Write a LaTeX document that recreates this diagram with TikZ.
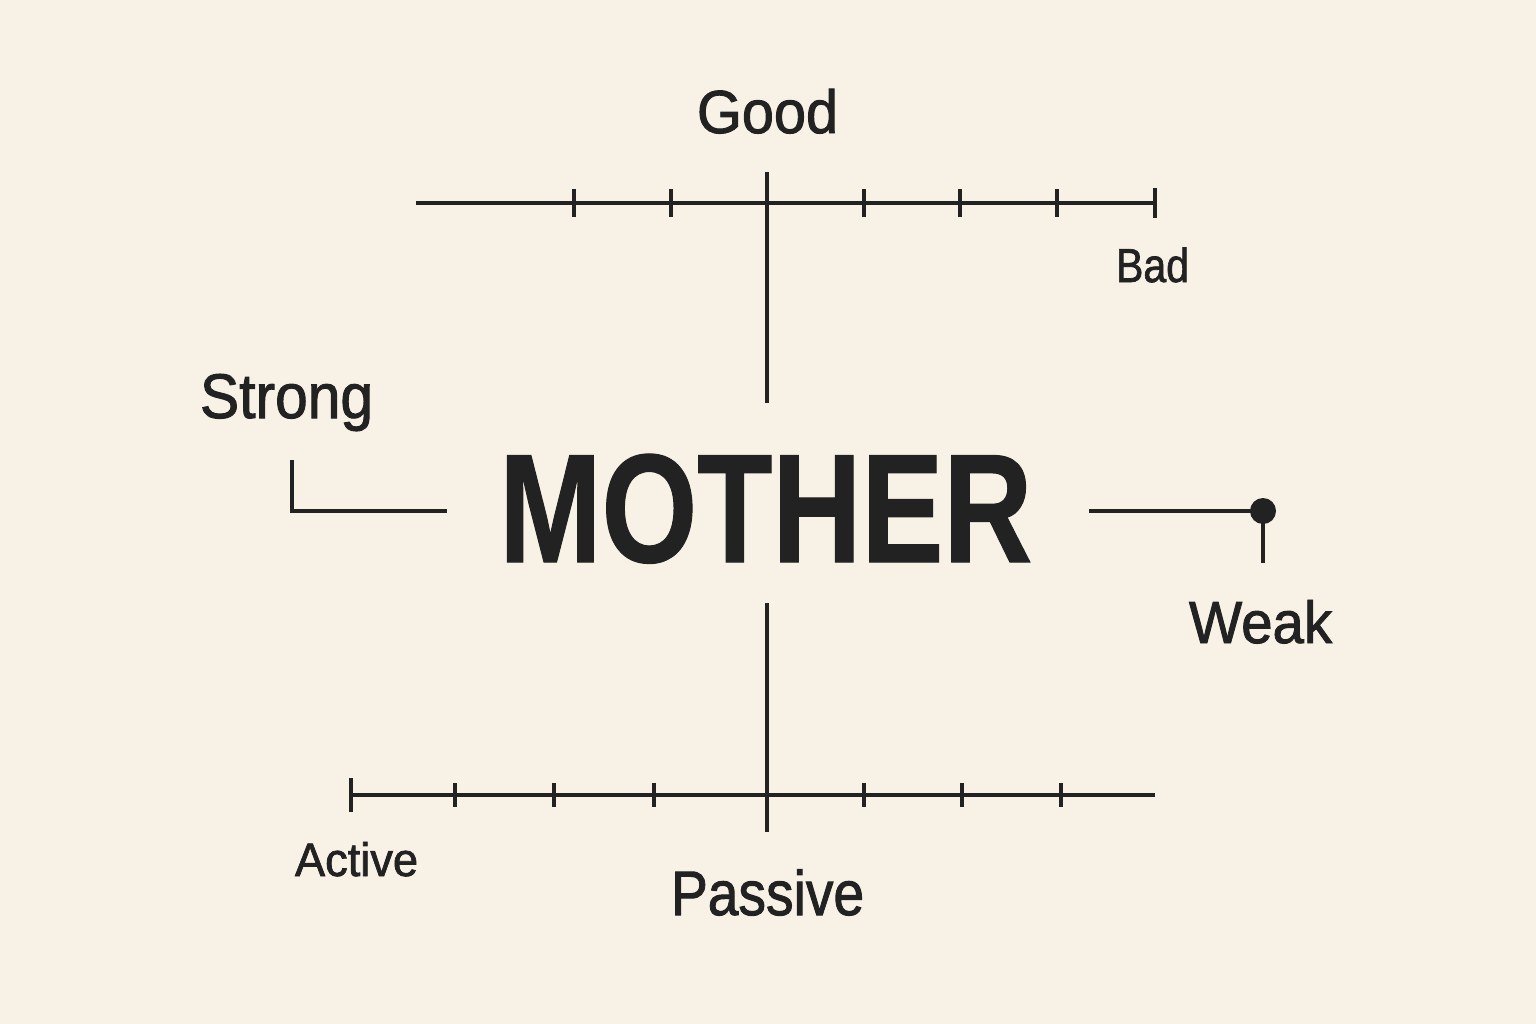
\documentclass[tikz,border=0pt]{standalone}
\usepackage{fontspec}
\setmainfont{Liberation Sans}
\newfontfamily\lblfont{Liberation Sans}[FakeBold=1.6]
\newfontfamily\bigfont{Liberation Sans Bold}[FakeBold=0.8]
\usepackage{graphicx}
\definecolor{bg}{HTML}{F8F1E6}
\definecolor{ink}{HTML}{222222}
\tikzset{
  axisline/.style={draw=ink, line width=1.15pt},
  tickmark/.style={draw=ink, line width=0.9pt},
  lbl/.style={inner sep=0pt, outer sep=0pt, anchor=base west, text=ink, font=\lblfont},
}
\begin{document}
\begin{tikzpicture}[x=0.01cm, y=-0.01cm]
\useasboundingbox (0,0) rectangle (1536,1024);
\fill[bg] (0,0) rectangle (1536,1024);

% top axis
\coordinate (tl) at (416,203);
\coordinate (tr) at (1155,203);
\draw[axisline] (tl) -- (tr);
\foreach \x in {574,671,864,960,1057} {
  \draw[tickmark] (\x,189) -- (\x,217);
}
\coordinate (tre1) at (1155,188);
\coordinate (tre2) at (1155,218);
\draw[tickmark] (tre1) -- (tre2);
\coordinate (tv1) at (767,172);
\coordinate (tv2) at (767,403);
\draw[axisline] (tv1) -- (tv2);

% bottom axis
\coordinate (bl) at (351,795);
\coordinate (br) at (1155,795);
\draw[axisline] (bl) -- (br);
\foreach \x in {455,554,654,864,962,1061} {
  \draw[tickmark] (\x,783) -- (\x,807);
}
\coordinate (ble1) at (351,778);
\coordinate (ble2) at (351,812);
\draw[axisline] (ble1) -- (ble2);
\coordinate (bv1) at (767,603);
\coordinate (bv2) at (767,832);
\draw[axisline] (bv1) -- (bv2);

% left L
\coordinate (L1) at (292,460);
\coordinate (L2) at (292,511);
\coordinate (L3) at (447,511);
\draw[axisline, line join=miter] (L1) -- (L2) -- (L3);

% right connector with dot
\coordinate (R1) at (1089,511);
\coordinate (R2) at (1263,511);
\coordinate (R3) at (1263,563);
\draw[tickmark] (R1) -- (R2);
\draw[tickmark] (R2) -- (R3);
\fill[ink] (R2) circle (13);

% labels
\node[lbl, font=\bigfont] (mother) at (499,562) {\resizebox{5.33cm}{1.08cm}{MOTHER}};
\node[lbl] (good) at (697,133) {\resizebox{1.41cm}{0.44cm}{Good}};
\node[lbl] (bad) at (1116,282) {\resizebox{0.73cm}{0.345cm}{Bad}};
\node[lbl] (strong) at (200,418) {\resizebox{1.73cm}{0.44cm}{Strong}};
\node[lbl] (weak) at (1189,643) {\resizebox{1.43cm}{0.43cm}{Weak}};
\node[lbl] (active) at (295,876) {\resizebox{1.23cm}{0.34cm}{Active}};
\node[lbl] (passive) at (671,915) {\resizebox{1.93cm}{0.455cm}{Passive}};
\end{tikzpicture}
\end{document}
